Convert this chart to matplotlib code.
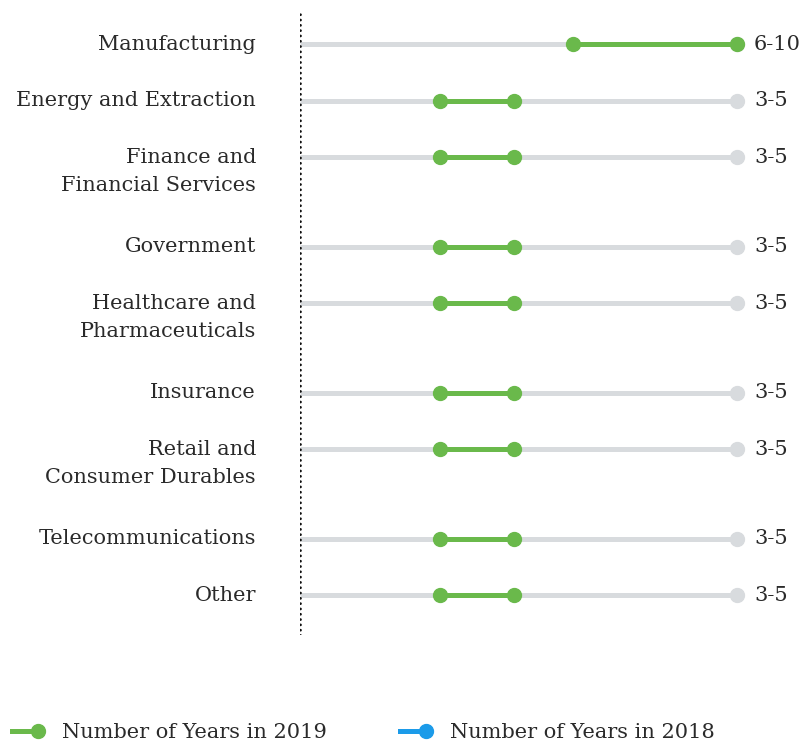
import numpy as np
import matplotlib.pyplot as plt
from matplotlib.lines import Line2D
from matplotlib.legend_handler import HandlerLine2D

plt.rcParams['font.family'] = ['DejaVu Serif']

industries = ['Manufacturing', 'Energy and Extraction', 'Finance and\nFinancial Services',
              'Government', 'Healthcare and\nPharmaceuticals', 'Insurance',
              'Retail and\nConsumer Durables', 'Telecommunications', 'Other']
low_2019 = [6.25, 3.2, 3.2, 3.2, 3.2, 3.2, 3.2, 3.2, 3.2]
high_2019 = [10, 4.9, 4.9, 4.9, 4.9, 4.9, 4.9, 4.9, 4.9]
range_labels = ['6-10', '3-5', '3-5', '3-5', '3-5', '3-5', '3-5', '3-5', '3-5']
scale_max = 10

green = '#6ab94b'
blue = '#1b9be9'
grey = '#d8dbde'
ink = '#2a2a2a'

# row positions: two-line labels take more room
rows = []
y = 44
for name in industries:
    rows.append(y)
    y += 89.5 if '\n' in name else 56.5

fig = plt.figure(figsize=(8.06, 7.46), dpi=100)
ax = fig.add_axes([300 / 806, 111 / 746, 437 / 806, 625 / 746])
ax.set_xlim(0, scale_max)
ax.set_ylim(635, 10)
ax.axis('off')

ax.axvline(0, color='#111111', lw=2.0, ls=(0, (0.01, 1.9)), dash_capstyle='round')

for i, name in enumerate(industries):
    yy = rows[i]
    ax.plot([0, scale_max], [yy, yy], color=grey, lw=3.6, solid_capstyle='butt', zorder=1)
    ax.plot(scale_max, yy, 'o', color=grey, ms=10, clip_on=False, zorder=2)
    ax.plot([low_2019[i], high_2019[i]], [yy, yy], color=green, lw=3.6,
            marker='o', ms=10, solid_capstyle='butt', clip_on=False, zorder=3)
    for k, line in enumerate(name.split('\n')):
        ax.annotate(line, (0, yy), xytext=(-44, -6 - 28 * k), textcoords='offset pixels',
                    ha='right', va='baseline', fontsize=15, color=ink)
    ax.annotate(range_labels[i], (scale_max, yy), xytext=(17, -6), textcoords='offset pixels',
                ha='left', va='baseline', fontsize=15, color=ink)


class EndDot(HandlerLine2D):
    def create_artists(self, *args, **kwargs):
        arts = super().create_artists(*args, **kwargs)
        for a in arts:
            a.set_markevery([2])
        return arts


handles = [Line2D([], [], color=green, lw=3.6, marker='o', ms=10),
           Line2D([], [], color=blue, lw=3.6, marker='o', ms=10)]
fig.legend(handles, ['Number of Years in 2019', 'Number of Years in 2018'],
           loc='center left', bbox_to_anchor=(12 / 806, 13 / 746), ncol=2, frameon=False,
           fontsize=15, numpoints=1, handlelength=1.25, handletextpad=1.15,
           columnspacing=3.5, labelcolor=ink, borderpad=0, borderaxespad=0,
           handler_map={Line2D: EndDot()})

fig.savefig('out.png', dpi=100)
